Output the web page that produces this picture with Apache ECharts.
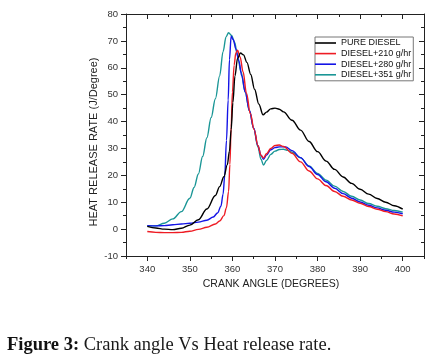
<!DOCTYPE html>
<html>
<head>
<meta charset="utf-8">
<title>Crank angle Vs Heat release rate</title>
<script src="https://cdn.jsdelivr.net/npm/echarts@6/dist/echarts.min.js"></script>
<style>
  html, body { margin: 0; padding: 0; background: #fff; }
  #chart { width: 434px; height: 361px; }
</style>
</head>
<body>
<div id="chart"></div>
<script>
// series names
var seriesNames = ['PURE DIESEL', 'DIESEL+210 g/hr', 'DIESEL+280 g/hr', 'DIESEL+351 g/hr'];
var seriesColors = ['#000000', '#ee1c24', '#1414e6', '#1a9696'];

// tick labels
var xTickMajor = [340, 350, 360, 370, 380, 390, 400];
var xTickMinor = [335, 345, 355, 365, 375, 385, 395, 405];

// PURE DIESEL
var pureAngle = [340, 342, 344, 346, 348, 350, 352, 354, 356, 357, 358, 358.8, 359.3, 359.7, 360.1, 360.6, 361.2, 361.9, 362.6, 363.4, 364.3, 365.2, 366.2, 367.2, 368, 369, 370, 371, 372, 374, 376, 378, 380, 382, 384, 386, 388, 390, 392, 394, 396, 398, 400];
var pureHrr = [1.0, 0.4, 0, -0.2, 0.3, 1.5, 3.5, 7.5, 12.5, 15.8, 19.5, 24, 29, 37, 47, 57, 63.5, 65.5, 64.8, 62, 57.5, 52, 46.5, 42.5, 43.5, 44.7, 45, 44.6, 43.6, 40.5, 36.8, 32.6, 28.8, 25.3, 22.2, 19.4, 17, 14.8, 13, 11.4, 10, 8.7, 7.4];

// DIESEL+210 g/hr
var d210Angle = [340, 342, 344, 346, 348, 350, 352, 354, 356, 357, 358, 358.6, 359.1, 359.4, 359.7, 360, 360.4, 360.8, 361.2, 361.8, 362.5, 363.3, 364.2, 365.1, 366, 366.7, 367.3, 368, 369, 370, 371, 372, 374, 376, 378, 380, 382, 384, 386, 388, 390, 392, 394, 396, 398, 400];
var d210Hrr = [-0.9, -1.2, -1.3, -1.3, -1.2, -0.8, -0.1, 0.7, 1.9, 3, 5, 8, 14, 24, 38, 51, 61, 65.5, 66.5, 64, 58.5, 50.5, 43, 37, 31, 27.5, 26.5, 28, 30, 31.1, 31.3, 30.7, 28.2, 25, 21.6, 18.7, 16.2, 14, 12.2, 10.8, 9.6, 8.4, 7.4, 6.5, 5.6, 4.9];

// DIESEL+280 g/hr
var d280Angle = [340, 342, 344, 346, 348, 350, 352, 354, 355.5, 356.5, 357.3, 357.8, 358.2, 358.6, 359, 359.3, 359.7, 360.2, 360.8, 361.5, 362.2, 363, 364, 365, 366, 366.7, 367.3, 368, 369, 370, 371, 372.5, 374, 376, 378, 380, 382, 384, 386, 388, 390, 392, 394, 396, 398, 400];
var d280Hrr = [1.3, 1.2, 1.3, 1.6, 1.9, 2.2, 2.6, 3.3, 4.5, 6, 8.5, 13, 20, 33, 48, 63, 71.7, 70.5, 67, 62.5, 57, 51, 44, 37.5, 31, 27.5, 26, 27.5, 29.5, 30.3, 30.6, 30.6, 29.2, 26.6, 23.3, 20.3, 17.6, 15.2, 13.2, 11.5, 10.1, 8.9, 7.9, 7, 6.3, 5.7];

// DIESEL+351 g/hr
var d351Angle = [340, 342, 344, 346, 348, 350, 351, 352, 353, 354, 355, 356, 357, 357.8, 358.5, 359.1, 359.8, 360.5, 361.2, 362, 363, 364, 365, 366, 366.7, 367.3, 368, 369, 370, 371, 372, 373, 374, 376, 378, 380, 382, 384, 386, 388, 390, 392, 394, 396, 398, 400];
var d351Hrr = [1.2, 1.2, 2.2, 3.8, 6.5, 11.5, 15.5, 20.5, 27, 34, 41.5, 48.5, 57, 66, 71.5, 73, 72, 69.5, 64.5, 58.5, 51, 44, 37.5, 30.5, 26, 23.8, 25.5, 27.8, 29, 29.6, 29.7, 29.3, 28.6, 26.5, 23.5, 20.7, 18.2, 16, 14, 12.2, 10.8, 9.5, 8.5, 7.6, 6.9, 6.3];

var allAngles = [pureAngle, d210Angle, d280Angle, d351Angle];
var allHrr = [pureHrr, d210Hrr, d280Hrr, d351Hrr];

function pairs(xs, ys) {
	var out = [];
	for (var i = 0; i < xs.length; i++) {
		out.push([xs[i], ys[i]]);
	}
	return out;
}

var axisColor = '#222';
var labelFont = 'Liberation Sans, Arial, sans-serif';

// x axes: main one with labels, others only draw tick marks
function xAxisDef(pos, ticks, len, inside, withLine) {
	return {
		type: 'value',
		position: pos,
		min: 335,
		max: 405,
		interval: 5,
		axisLine: { show: withLine, onZero: false, lineStyle: { color: axisColor, width: 1 } },
		axisTick: { show: true, inside: inside, length: len, customValues: ticks, lineStyle: { color: axisColor } },
		axisLabel: { show: false },
		splitLine: { show: false }
	};
}

var xMain = xAxisDef('bottom', xTickMajor, 5, false, true);
xMain.axisLabel = {
	show: true,
	customValues: xTickMajor,
	margin: 8,
	color: '#333',
	fontSize: 9.5,
	fontFamily: labelFont
};

var myChart = echarts.init(document.getElementById('chart'));

var seriesK = [];
for (var i = 0; i < seriesNames.length; i++) {
	seriesK.push({
		name: seriesNames[i],
		type: 'line',
		xAxisIndex: 0,
		yAxisIndex: 0,
		data: pairs(allAngles[i], allHrr[i]),
		smooth: 0.35,
		smoothMonotone: 'x',
		symbol: 'none',
		color: seriesColors[i],
		lineStyle: { width: 1.4, color: seriesColors[i] },
		z: 10 - i
	});
}

var option = {
	animation: false,
	backgroundColor: '#fff',
	title: {
		left: 2,
		top: 331,
		text: '{b|Figure 3:} Crank angle Vs Heat release rate.',
		textStyle: {
			fontFamily: 'Liberation Serif, serif',
			fontSize: 18.5,
			fontWeight: 'normal',
			color: '#1a1a1a',
			rich: {
				b: { fontFamily: 'Liberation Serif, serif', fontSize: 18.5, fontWeight: 'bold', color: '#111' }
			}
		}
	},
	grid: {
		left: 126,
		right: 10,
		top: 14,
		bottom: 105
	},
	legend: {
		data: seriesNames,
		orient: 'vertical',
		left: 315,
		top: 37,
		icon: 'rect',
		itemWidth: 21,
		itemHeight: 1.6,
		itemGap: 0.6,
		padding: [1, 2, 1, 0],
		borderColor: '#777',
		borderWidth: 1,
		backgroundColor: '#fff',
		textStyle: { fontSize: 9, lineHeight: 10, color: '#111', fontFamily: labelFont }
	},
	xAxis: [
		xMain,
		xAxisDef('bottom', xTickMinor, 3, false, false),
		xAxisDef('top', xTickMajor, 5, true, true),
		xAxisDef('top', xTickMinor, 3, true, false)
	],
	yAxis: [{
		type: 'value',
		position: 'left',
		min: -10,
		max: 80,
		interval: 10,
		axisLine: { show: true, onZero: false, lineStyle: { color: axisColor, width: 1 } },
		axisTick: { show: true, inside: false, length: 5, lineStyle: { color: axisColor } },
		minorTick: { show: true, splitNumber: 2, length: 3, lineStyle: { color: axisColor } },
		axisLabel: { margin: 8, color: '#333', fontSize: 9.5, fontFamily: labelFont },
		splitLine: { show: false }
	}, {
		type: 'value',
		position: 'right',
		min: -10,
		max: 80,
		interval: 10,
		axisLine: { show: true, onZero: false, lineStyle: { color: axisColor, width: 1 } },
		axisTick: { show: true, inside: true, length: 5, lineStyle: { color: axisColor } },
		minorTick: { show: true, splitNumber: 2, length: 3, lineStyle: { color: axisColor } },
		axisLabel: { show: false },
		splitLine: { show: false }
	}],
	graphic: [{
		type: 'text',
		x: 94,
		y: 142,
		rotation: Math.PI / 2,
		style: {
			text: 'HEAT RELEASE RATE (J/Degree)',
			fill: '#222',
			fontSize: 11,
			fontFamily: labelFont,
			textAlign: 'center',
			textVerticalAlign: 'middle'
		}
	}, {
		type: 'text',
		x: 271,
		y: 284,
		style: {
			text: 'CRANK ANGLE (DEGREES)',
			fill: '#222',
			fontSize: 10.5,
			fontFamily: labelFont,
			textAlign: 'center',
			textVerticalAlign: 'middle'
		}
	}],
	series: seriesK
};

myChart.setOption(option);
</script>
</body>
</html>
